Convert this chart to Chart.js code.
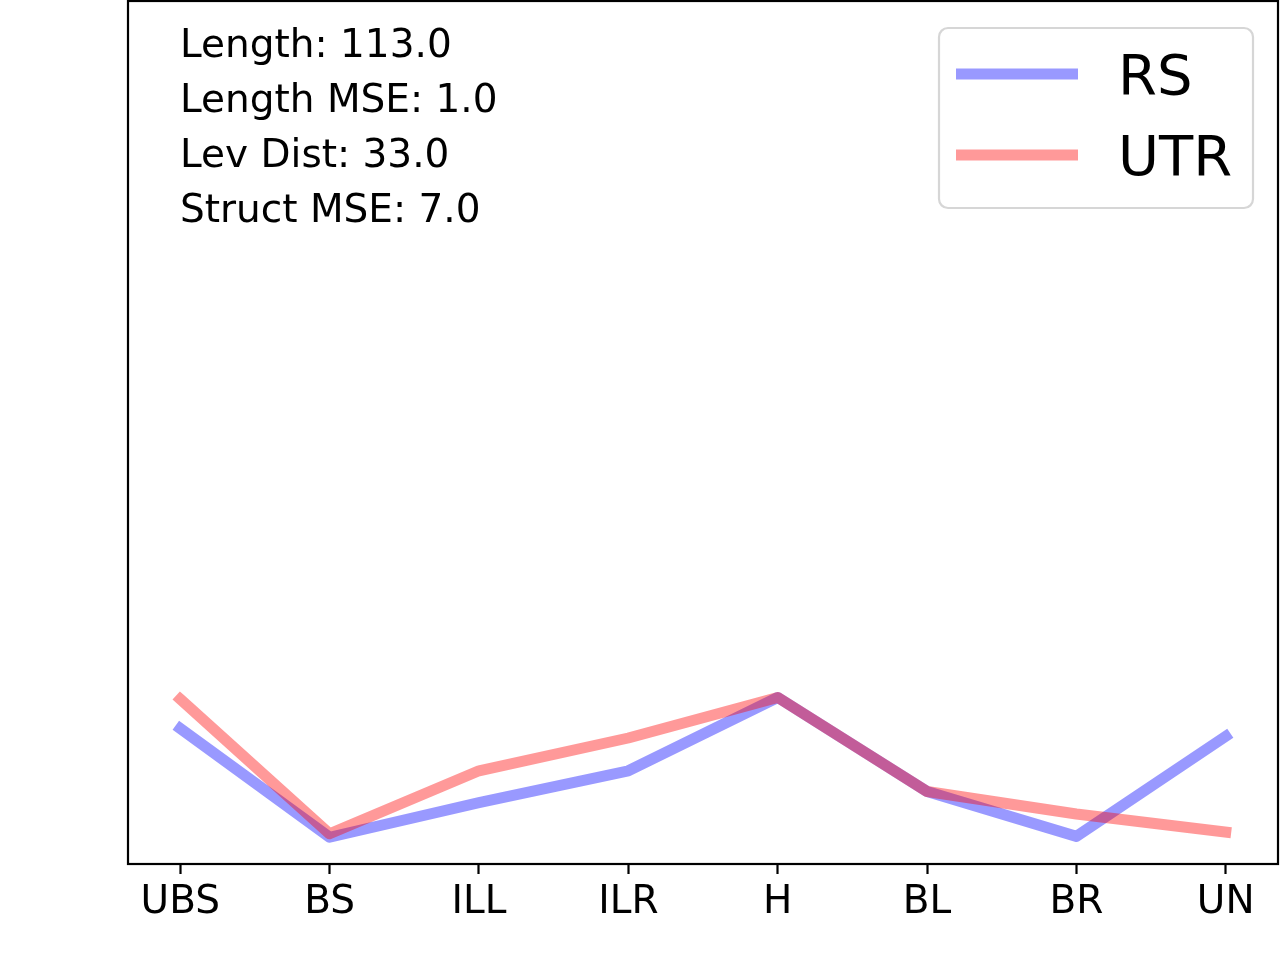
<!DOCTYPE html>
<html>
<head>
<meta charset="utf-8">
<script src="https://cdn.jsdelivr.net/npm/chart.js@4.4.0/dist/chart.umd.min.js"></script>
<style>
  body { margin: 0; background: #fff; }
  #chart { display: block; }
</style>
</head>
<body>
<canvas id="chart" width="1280" height="960"></canvas>
<script>
// data (y axis has no ticks, values are relative 0..1)
const categories = ["UBS", "BS", "ILL", "ILR", "H", "BL", "BR", "UN"];
const rsValues = [0.157, 0.031, 0.071, 0.108, 0.193, 0.084, 0.032, 0.148];
const utrValues = [0.191, 0.035, 0.108, 0.146, 0.193, 0.084, 0.058, 0.037];
const infoLines = ["Length: 113.0", "Length MSE: 1.0", "Lev Dist: 33.0", "Struct MSE: 7.0"];

const FONT = "'DejaVu Sans', sans-serif";

const toPoints = (vals) => vals.map((v, i) => ({ x: i, y: v }));

// frame, text block and legend box drawn on top
const overlay = {
  id: "overlay",
  afterDraw(chart) {
    const ctx = chart.ctx;
    const a = chart.chartArea;
    ctx.save();

    // axes frame
    ctx.strokeStyle = "#000";
    ctx.lineWidth = 2.2;
    ctx.strokeRect(a.left, a.top, a.right - a.left, a.bottom - a.top);

    // stats text
    ctx.fillStyle = "#000";
    ctx.font = "39px " + FONT;
    ctx.textBaseline = "alphabetic";
    ctx.textAlign = "left";
    infoLines.forEach((t, i) => {
      ctx.fillText(t, a.left + 52, a.top + 56 + i * 55);
    });

    // legend
    const bx = a.right - 339, by = a.top + 27, bw = 314, bh = 180, r = 9;
    ctx.beginPath();
    ctx.moveTo(bx + r, by);
    ctx.arcTo(bx + bw, by, bx + bw, by + bh, r);
    ctx.arcTo(bx + bw, by + bh, bx, by + bh, r);
    ctx.arcTo(bx, by + bh, bx, by, r);
    ctx.arcTo(bx, by, bx + bw, by, r);
    ctx.closePath();
    ctx.fillStyle = "rgba(255,255,255,0.8)";
    ctx.fill();
    ctx.strokeStyle = "#d6d6d6";
    ctx.lineWidth = 2.2;
    ctx.stroke();

    ctx.font = "56px " + FONT;
    chart.data.datasets.forEach((ds, i) => {
      const cy = by + 46 + i * 81;
      ctx.beginPath();
      ctx.moveTo(bx + 17, cy);
      ctx.lineTo(bx + 139, cy);
      ctx.strokeStyle = ds.borderColor;
      ctx.lineWidth = ds.borderWidth;
      ctx.lineCap = "butt";
      ctx.stroke();
      ctx.fillStyle = "#000";
      ctx.fillText(ds.label, bx + 179, cy + 20);
    });
    ctx.restore();
  },
};

new Chart(document.getElementById("chart"), {
  type: "line",
  data: {
    datasets: [
      {
        label: "RS",
        data: toPoints(rsValues),
        borderColor: "rgba(0, 0, 255, 0.4)",
        borderWidth: 11,
        borderCapStyle: "square",
        borderJoinStyle: "round",
        pointRadius: 0,
        tension: 0,
        fill: false,
        order: 1,
      },
      {
        label: "UTR",
        data: toPoints(utrValues),
        borderColor: "rgba(255, 0, 0, 0.4)",
        borderWidth: 11,
        borderCapStyle: "square",
        borderJoinStyle: "round",
        pointRadius: 0,
        tension: 0,
        fill: false,
        order: 0,
      },
    ],
  },
  options: {
    responsive: false,
    animation: false,
    devicePixelRatio: 1,
    layout: { padding: { left: 128, right: 2, top: 1, bottom: 0 } },
    plugins: {
      legend: { display: false },
      tooltip: { enabled: false },
    },
    scales: {
      x: {
        type: "linear",
        min: -0.35,
        max: categories.length - 1 + 0.35,
        afterBuildTicks: (scale) => {
          scale.ticks = categories.map((c, i) => ({ value: i }));
        },
        afterFit: (scale) => {
          scale.height = 96;
        },
        ticks: {
          callback: (v) => categories[v],
          color: "#000",
          font: { family: FONT, size: 39, lineHeight: 1.2 },
          padding: 5,
          maxRotation: 0,
          autoSkip: false,
        },
        grid: {
          display: true,
          drawOnChartArea: false,
          drawTicks: true,
          tickLength: 10,
          tickWidth: 2.2,
          tickColor: "#000",
        },
        border: { display: false },
      },
      y: {
        min: 0,
        max: 1,
        ticks: { display: false },
        grid: { display: false, drawTicks: false },
        border: { display: false },
      },
    },
  },
  plugins: [overlay],
});
</script>
</body>
</html>
